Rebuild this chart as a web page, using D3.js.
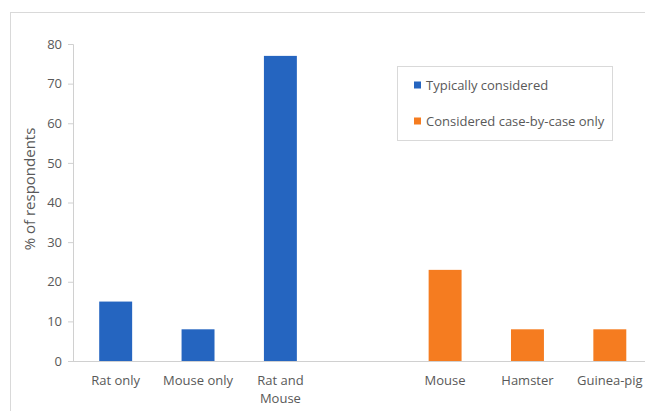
<!DOCTYPE html>
<html>
<head>
<meta charset="utf-8">
<script src="https://cdn.jsdelivr.net/npm/d3@7"></script>
<style>
  html, body { margin: 0; padding: 0; background: #fff; }
  svg { display: block; }
  text { font-family: "Open Sans", "Noto Sans", sans-serif; fill: #595959; }
</style>
</head>
<body>
<svg id="chart" width="645" height="411"></svg>
<script>
// Categories, in axis order; an empty slot separates the two groups
const categories = ["Rat only", "Mouse only", "Rat and Mouse", "", "Mouse", "Hamster", "Guinea-pig"];
const typicallyConsidered = [15, 8, 77, null, null, null, null];
const caseByCase = [null, null, null, null, 23, 8, 8];
const yTicks = [0, 10, 20, 30, 40, 50, 60, 70, 80];
const seriesNames = ["Typically considered", "Considered case-by-case only"];
const seriesColors = ["#2565c0", "#f57c20"];

const svg = d3.select("#chart");

// Outer chart frame
svg.append("rect")
  .attr("x", 10.5).attr("y", 12.5)
  .attr("width", 700).attr("height", 500)
  .attr("fill", "none").attr("stroke", "#d9d9d9");

const plot = { left: 73, top: 44, bottom: 361, right: 651 };

const x = d3.scaleBand()
  .domain(d3.range(categories.length))
  .range([plot.left + 1.5, plot.right])
  .paddingInner(0.6)
  .paddingOuter(0.3);

const y = d3.scaleLinear().domain([0, 80]).range([plot.bottom, plot.top]);

// Y axis
const yAxis = svg.append("g")
  .attr("transform", `translate(${plot.left},0)`)
  .call(d3.axisLeft(y).tickValues(yTicks).tickSize(5).tickPadding(6));
yAxis.select(".domain").attr("stroke", "#d0d0d0");
yAxis.selectAll(".tick line").attr("stroke", "#d0d0d0");
yAxis.selectAll(".tick text")
  .attr("fill", "#595959")
  .style("font-size", "13px")
  .style("font-family", "'Open Sans', sans-serif");

// X baseline
svg.append("line")
  .attr("x1", plot.left).attr("x2", 645)
  .attr("y1", y(0) + 0.5).attr("y2", y(0) + 0.5)
  .attr("stroke", "#d0d0d0");

// Bars
const series = [typicallyConsidered, caseByCase];
series.forEach((vals, si) => {
  svg.append("g").selectAll("rect")
    .data(vals.map((v, i) => ({ v, i })).filter(d => d.v != null))
    .join("rect")
    .attr("x", d => x(d.i))
    .attr("width", x.bandwidth())
    .attr("y", d => y(d.v))
    .attr("height", d => y(0) - y(d.v))
    .attr("fill", seriesColors[si]);
});

// Category labels (wrapped onto two lines where needed)
const wrapped = { "Rat and Mouse": ["Rat and", "Mouse"] };
categories.forEach((c, i) => {
  if (!c) return;
  const lines = wrapped[c] || [c];
  const t = svg.append("text")
    .attr("text-anchor", "middle")
    .style("font-size", "13px");
  lines.forEach((ln, k) => {
    t.append("tspan")
      .attr("x", x(i) + x.bandwidth() / 2)
      .attr("y", 385 + k * 18)
      .text(ln);
  });
});

// Y axis title
svg.append("text")
  .attr("transform", "translate(35,189) rotate(-90)")
  .attr("text-anchor", "middle")
  .style("font-size", "15px")
  .text("% of respondents");

// Legend
const lg = svg.append("g");
lg.append("rect")
  .attr("x", 397.5).attr("y", 66.5)
  .attr("width", 215).attr("height", 74)
  .attr("fill", "#fff").attr("stroke", "#d9d9d9");
seriesNames.forEach((name, i) => {
  const cy = 85 + i * 36;
  lg.append("rect")
    .attr("x", 414).attr("y", cy - 3.5)
    .attr("width", 7).attr("height", 7)
    .attr("fill", seriesColors[i]);
  lg.append("text")
    .attr("x", 426).attr("y", cy + 4.5)
    .style("font-size", "13px")
    .text(name);
});
</script>
</body>
</html>
